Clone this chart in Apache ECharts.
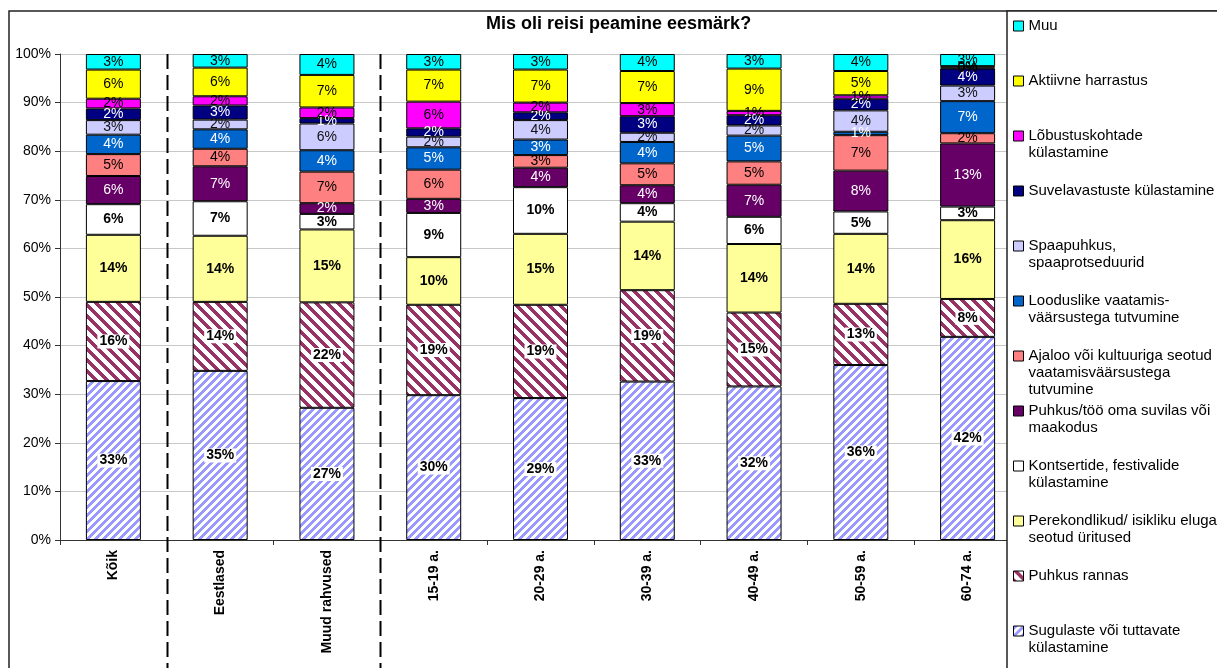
<!DOCTYPE html>
<html>
<head>
<meta charset="utf-8">
<script src="https://cdn.jsdelivr.net/npm/echarts@6/dist/echarts.min.js"></script>
<style>
  html, body { margin: 0; padding: 0; background: #fff; }
  #chart { width: 1217px; height: 668px; }
</style>
</head>
<body>
<div id="chart"></div>
<script>
const categories = ['Kõik', 'Eestlased', 'Muud rahvused', '15-19 a.', '20-29 a.', '30-39 a.', '40-49 a.', '50-59 a.', '60-74 a.']

// shares in %, stacked bottom-up
const sugulaste = [32.7, 34.8, 27.2, 29.8, 29.2, 32.6, 31.6, 36.0, 41.8]
const rannas    = [16.3, 14.2, 21.7, 18.6, 19.2, 18.8, 15.2, 12.6, 7.8]
const perekond  = [13.8, 13.6, 15.0, 9.8, 14.6, 14.1, 14.1, 14.4, 16.2]
const kontsert  = [6.3, 7.1, 3.2, 9.1, 9.6, 3.8, 5.6, 4.6, 2.8]
const suvila    = [5.8, 7.2, 2.2, 2.9, 4.0, 3.7, 6.6, 8.4, 13.0]
const ajalugu   = [4.5, 3.6, 6.5, 6.0, 2.6, 4.5, 4.8, 7.3, 2.1]
const loodus    = [4.0, 4.0, 4.4, 4.6, 3.2, 4.4, 5.3, 0.7, 6.6]
const spaa      = [3.0, 2.0, 5.5, 2.2, 4.0, 1.9, 2.1, 4.4, 3.2]
const suvelav   = [2.4, 2.9, 1.1, 1.7, 1.6, 3.4, 2.1, 2.4, 3.5]
const lobustus  = [2.0, 1.9, 2.2, 5.5, 2.0, 2.7, 0.9, 0.7, 0.2]
const aktiivne  = [6.0, 5.9, 6.7, 6.6, 6.8, 6.6, 8.7, 5.0, 0.3]
const muu       = [3.2, 2.8, 4.3, 3.2, 3.2, 3.5, 3.0, 3.5, 2.5]

const yTicks = [0, 10, 20, 30, 40, 50, 60, 70, 80, 90, 100]
const separatorsAfter = [0, 2]

const FONT = '"Liberation Sans", Arial, sans-serif'

function stripes(color, period, width, dir) {
  const c = document.createElement('canvas')
  c.width = c.height = period
  const ctx = c.getContext('2d')
  ctx.fillStyle = '#fff'
  ctx.fillRect(0, 0, period, period)
  ctx.fillStyle = color
  for (let y = 0; y < period; y++) {
    for (let x = 0; x < period; x++) {
      const k = dir > 0 ? (x + y) % period : ((x - y) % period + period) % period
      if (k < width) ctx.fillRect(x, y, 1, 1)
    }
  }
  return { image: c, repeat: 'repeat' }
}

const seriesDefs = [
  { name: 'Sugulaste või tuttavate\nkülastamine', data: sugulaste, color: stripes('#9999ff', 8, 4, 1), label: '#000', bold: true, bg: true },
  { name: 'Puhkus rannas', data: rannas, color: stripes('#993366', 11, 5, -1), label: '#000', bold: true, bg: true },
  { name: 'Perekondlikud/ isikliku eluga\nseotud üritused', data: perekond, color: '#ffff99', label: '#000', bold: true },
  { name: 'Kontsertide, festivalide\nkülastamine', data: kontsert, color: '#ffffff', label: '#000', bold: true },
  { name: 'Puhkus/töö oma suvilas või\nmaakodus', data: suvila, color: '#660066', label: '#fff' },
  { name: 'Ajaloo või kultuuriga seotud\nvaatamisväärsustega\ntutvumine', data: ajalugu, color: '#ff8080', label: '#000' },
  { name: 'Looduslike vaatamis-\nväärsustega tutvumine', data: loodus, color: '#0066cc', label: '#fff' },
  { name: 'Spaapuhkus,\nspaaprotseduurid', data: spaa, color: '#ccccff', label: '#111' },
  { name: 'Suvelavastuste külastamine', data: suvelav, color: '#000080', label: '#fff' },
  { name: 'Lõbustuskohtade\nkülastamine', data: lobustus, color: '#ff00ff', label: '#000' },
  { name: 'Aktiivne harrastus', data: aktiivne, color: '#ffff00', label: '#000' },
  { name: 'Muu', data: muu, color: '#00ffff', label: '#000' },
]

// legend lists top segment first, one slot per entry
const legendOrder = seriesDefs.slice().reverse()
const legends = legendOrder.map((s, i) => {
  const lines = s.name.split('\n').length
  const lh = 17
  return {
    data: [s.name],
    orient: 'vertical',
    left: 1013,
    top: 26 + i * 55 - (2 * lines - 1) * lh / 2,
    padding: 0,
    icon: 'rect',
    itemWidth: 10,
    itemHeight: 10,
    selectedMode: false,
    z: 10,
    itemStyle: { borderColor: '#000', borderWidth: 1 },
    textStyle: { fontFamily: FONT, fontSize: 15, lineHeight: lh, color: '#000' },
    formatter: n => '\n'.repeat(lines - 1) + n,
  }
})

const chart = echarts.init(document.getElementById('chart'), null, { renderer: 'canvas' })

chart.setOption({
  animation: false,
  backgroundColor: '#fff',
  title: {
    text: 'Mis oli reisi peamine eesmärk?',
    left: 486, top: 15, padding: 0,
    textStyle: { fontFamily: FONT, fontSize: 18, fontWeight: 'bold', color: '#000' },
  },
  legend: legends,
  grid: { left: 60, right: 196, top: 54, bottom: 128, containLabel: false },
  xAxis: {
    type: 'category',
    data: categories,
    axisLine: { lineStyle: { color: '#333', width: 1 } },
    axisTick: { show: true, length: 5, lineStyle: { color: '#333' } },
    axisLabel: {
      rotate: 90, margin: 10, interval: 0,
      fontFamily: FONT, fontSize: 14, fontWeight: 'bold', color: '#000',
    },
  },
  yAxis: {
    type: 'value',
    min: yTicks[0], max: yTicks[yTicks.length - 1], interval: 10,
    axisLine: { show: true, lineStyle: { color: '#333', width: 1 } },
    axisTick: { show: true, length: 5, lineStyle: { color: '#333' } },
    splitLine: { lineStyle: { color: '#c8c8c8', width: 1 } },
    axisLabel: { formatter: '{value}%', margin: 9, fontFamily: FONT, fontSize: 14, color: '#000' },
  },
  series: seriesDefs.map(s => ({
    name: s.name,
    type: 'bar',
    stack: 'total',
    data: s.data,
    barWidth: '51.5%',
    itemStyle: { color: s.color, borderColor: '#000', borderWidth: 1 },
    label: {
      show: true,
      position: 'inside',
      formatter: p => Math.round(p.value) + '%',
      fontFamily: FONT,
      fontSize: 14,
      fontWeight: s.bold ? 'bold' : 'normal',
      color: s.label,
      backgroundColor: s.bg ? '#fff' : 'transparent',
      padding: s.bg ? [0, 2] : 0,
    },
  })),
})

// frame, legend box and dashed group separators placed from the axis scale
const yTop = chart.convertToPixel({ yAxisIndex: 0 }, 100)
const graphics = [
  { type: 'rect', z: 3, silent: true, shape: { x: 9, y: 11, width: 1300, height: 700 },
    style: { fill: 'none', stroke: '#222', lineWidth: 1.5 } },
  { type: 'rect', z: 3, silent: true, shape: { x: 1007, y: 11, width: 300, height: 700 },
    style: { fill: '#fff', stroke: '#222', lineWidth: 1.5 } },
]
separatorsAfter.forEach(i => {
  const a = chart.convertToPixel({ xAxisIndex: 0 }, categories[i])
  const b = chart.convertToPixel({ xAxisIndex: 0 }, categories[i + 1])
  const x = Math.round((a + b) / 2) + 0.5
  graphics.push({
    type: 'line', z: 3, silent: true,
    shape: { x1: x, y1: yTop, x2: x, y2: 668 },
    style: { stroke: '#000', lineWidth: 2, lineDash: [15, 6] },
  })
})
chart.setOption({ graphic: graphics })
</script>
</body>
</html>
